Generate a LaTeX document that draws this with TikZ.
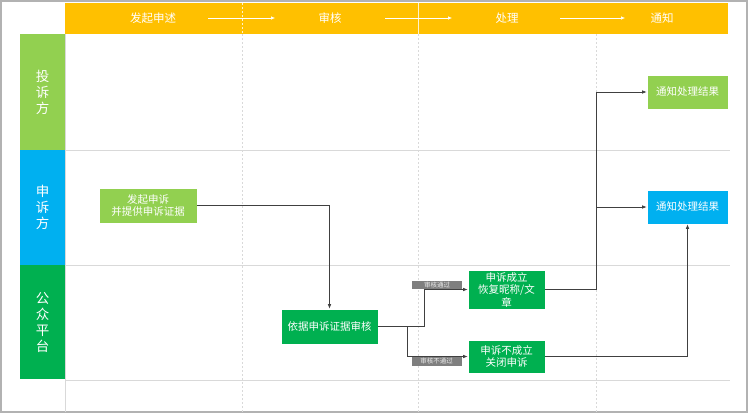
\documentclass[tikz,border=0pt]{standalone}
\usepackage{fontspec}
\setmainfont{Noto Sans CJK SC}
\usetikzlibrary{arrows.meta}
\definecolor{hdr}{HTML}{FFC000}
\definecolor{lgreen}{HTML}{92D050}
\definecolor{lblue}{HTML}{00B0F0}
\definecolor{dgreen}{HTML}{00B050}
\definecolor{lane}{HTML}{D9D9D9}
\definecolor{conncol}{HTML}{404040}
\definecolor{tagcol}{HTML}{7F7F7F}
\tikzset{
  box/.style={draw=white, line width=0.6pt, text=white, inner sep=0pt, align=center,
    font=\fontsize{10.5}{12.5}\selectfont},
  lanehead/.style={inner sep=0pt, text=white, align=center, minimum width=45pt,
    font=\fontsize{13.5}{16}\selectfont},
  htext/.style={text=white, inner sep=0pt, font=\fontsize{11.5}{13}\selectfont},
  conn/.style={draw=conncol, line width=0.6pt, -{Latex[length=4.5pt,width=3.5pt]}},
  harrow/.style={draw=white, line width=0.6pt, -{Latex[length=4pt,width=3.5pt]}},
  tag/.style={fill=tagcol, text=white!85!gray, inner sep=0pt, minimum width=50pt, minimum height=8.5pt,
    font=\fontsize{6.5}{7}\selectfont},
  laneline/.style={draw=lane, line width=0.8pt},
  divline/.style={draw=lane, line width=0.8pt, dash pattern=on 2pt off 2pt}
}
\begin{document}
\begin{tikzpicture}[x=1pt,y=-1pt]
\useasboundingbox (0,0) rectangle (750,413);
\fill[white] (0,0) rectangle (750,413);
% outer frame
\draw[draw=gray!60, line width=1.2pt] (1,1) rectangle (747,412);
% header band
\fill[hdr] (65,3) rectangle (728,34);
% lane lines
\draw[laneline] (65,150) -- (730,150);
\draw[laneline] (65,265) -- (730,265);
\draw[laneline] (65,380) -- (730,380);
\draw[laneline] (65,34) -- (65,412);
% column dividers
\draw[divline] (242,34) -- (242,412);
\draw[divline] (418,34) -- (418,412);
\draw[divline] (596,34) -- (596,412);
\draw[draw=white!80!hdr, line width=0.6pt, dash pattern=on 2pt off 2pt] (242,3) -- (242,34);
\draw[draw=white!80!hdr, line width=0.6pt] (418,3) -- (418,34);
% lane headers
\node[lanehead, fill=lgreen, minimum height=116pt] (lh1) at (42.5,92) {投\\诉\\方};
\node[lanehead, fill=lblue, minimum height=115pt] (lh2) at (42.5,207.5) {申\\诉\\方};
\node[lanehead, fill=dgreen, minimum height=114pt] (lh3) at (42.5,322) {公\\众\\平\\台};
% header texts
\node[htext] (h1) at (153,18) {发起申述};
\node[htext] (h2) at (330,18) {审核};
\node[htext] (h3) at (507,18) {处理};
\node[htext] (h4) at (662,18) {通知};
\coordinate (a1s) at (208,18); \coordinate (a1e) at (275,18);
\coordinate (a2s) at (385,18); \coordinate (a2e) at (452,18);
\coordinate (a3s) at (560,18); \coordinate (a3e) at (625,18);
\draw[harrow] (a1s) -- (a1e);
\draw[harrow] (a2s) -- (a2e);
\draw[harrow] (a3s) -- (a3e);
% process nodes
\node[box, fill=lgreen, minimum width=98pt, minimum height=35pt] (n1) at (148,205.5) {发起申诉\\并提供申诉证据};
\node[box, fill=dgreen, minimum width=97pt, minimum height=35pt] (n2) at (329.5,326.5) {依据申诉证据审核};
\node[box, fill=dgreen, minimum width=77pt, minimum height=39pt] (n3) at (506.5,289.5) {申诉成立\\恢复昵称/文\\章};
\node[box, fill=dgreen, minimum width=77pt, minimum height=33pt] (n4) at (506.5,356.5) {申诉不成立\\关闭申诉};
\node[box, fill=lgreen, minimum width=81pt, minimum height=34pt] (n5) at (687.5,92) {通知处理结果};
\node[box, fill=lblue, minimum width=81pt, minimum height=34pt] (n6) at (687.5,207) {通知处理结果};
% junctions
\coordinate (j1) at (424,326.5);
\coordinate (j2) at (407,326.5);
\coordinate (j3) at (596,289.5);
% connectors
\draw[conn] (n1.east) -| (n2.north);
\draw[conn] (n2.east) -- (j1) |- (n3.west);
\draw[conn] (j2) |- (n4.west);
\draw[conn] (n3.east) -- (j3) |- (n5.west);
\draw[conn] (j3) |- (n6.west);
\draw[conn] (n4.east) -| (n6.south);
% tags
\node[tag] (t1) at (437,285) {审核通过};
\node[tag] (t2) at (436.5,361.5) {审核不通过};
\end{tikzpicture}
\end{document}
